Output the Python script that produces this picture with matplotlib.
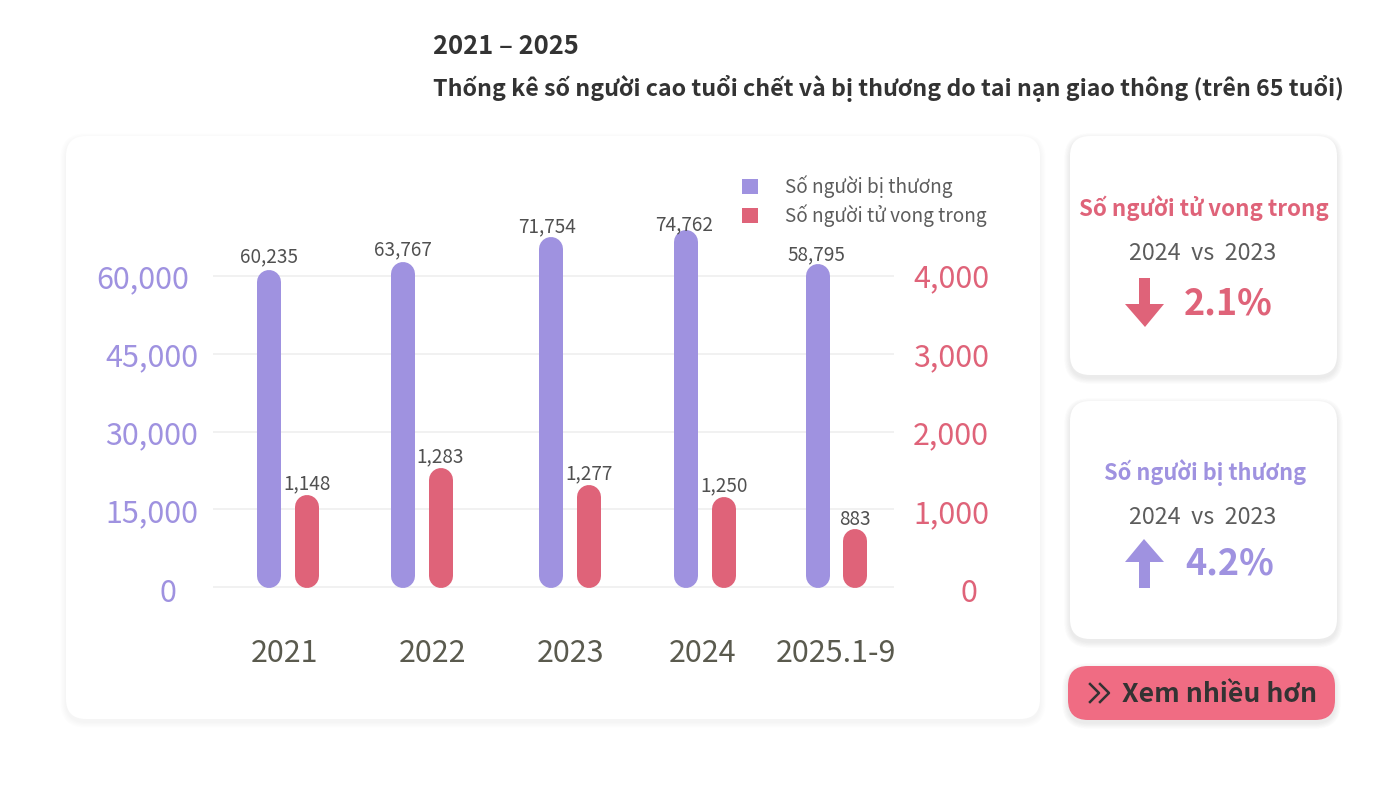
import matplotlib
matplotlib.use('Agg')
import matplotlib.pyplot as plt
from matplotlib.patches import FancyBboxPatch, Patch, Polygon
from matplotlib.transforms import ScaledTranslation

plt.rcParams['font.family'] = ['Noto Sans CJK KR', 'Noto Sans', 'DejaVu Sans']

# data
years = ['2021', '2022', '2023', '2024', '2025.1-9']
injured_labels = ['60,235', '63,767', '71,754', '74,762', '58,795']
deaths_labels = ['1,148', '1,283', '1,277', '1,250', '883']
# the drawn bar heights do not follow the printed numbers, these are read off the axes
injured_bars = [61100, 62700, 67500, 68900, 62300]
deaths_bars = [1183, 1530, 1312, 1157, 746]
left_ticks = [0, 15000, 30000, 45000, 60000]
right_ticks = [0, 1000, 2000, 3000, 4000]

PURPLE = '#9F92E0'
RED = '#DF6379'
PINK = '#F06C83'
DARK = '#333333'
GREY = '#5C5C5C'

W, H = 1400, 790
fig = plt.figure(figsize=(W / 100, H / 100), dpi=100, facecolor='white')


def pt(px):
    return px * 0.72


# background layer in pixel coordinates
bg = fig.add_axes([0, 0, 1, 1])
bg.set_xlim(0, W)
bg.set_ylim(H, 0)
bg.axis('off')


def card(x0, y0, x1, y1, color='white', r=20, shadow=0.006):
    for i in range(10, 0, -1):
        bg.add_patch(FancyBboxPatch((x0 - i * 0.6, y0 - i * 0.6 + 3), x1 - x0 + i * 1.2, y1 - y0 + i * 1.2,
                                    boxstyle='round,pad=0,rounding_size=%d' % (r + i * 0.6),
                                    fc='black', ec='none', alpha=shadow))
    bg.add_patch(FancyBboxPatch((x0, y0), x1 - x0, y1 - y0, boxstyle='round,pad=0,rounding_size=%d' % r,
                                fc=color, ec='none'))


card(66, 136, 1040, 719, shadow=0.005)
card(1070, 136, 1337, 375)
card(1070, 401, 1337, 639)
card(1068, 666, 1335, 720, color=PINK)

# titles
bg.text(433, 47, '2021 – 2025', fontsize=pt(25.5), fontweight='bold', color=DARK, va='center')
bg.text(433, 89, 'Thống kê số người cao tuổi chết và bị thương do tai nạn giao thông (trên 65 tuổi)',
        fontsize=pt(23.2), fontweight='bold', color=DARK, va='center')

# side cards
bg.text(1204, 208, 'Số người tử vong trong', fontsize=pt(22.3), fontweight='bold', color=RED, ha='center', va='center')
bg.text(1203, 253, '2024  vs  2023', fontsize=pt(23.3), color=GREY, ha='center', va='center')
bg.text(1228, 304, '2.1%', fontsize=pt(36), fontweight='bold', color=RED, ha='center', va='center')
bg.add_patch(Polygon([(1139, 278), (1150, 278), (1150, 304), (1164, 304), (1145, 327), (1125, 304), (1139, 304)],
                     fc=RED, ec='none'))

bg.text(1205, 473, 'Số người bị thương', fontsize=pt(21.8), fontweight='bold', color=PURPLE, ha='center', va='center')
bg.text(1203, 518, '2024  vs  2023', fontsize=pt(23.3), color=GREY, ha='center', va='center')
bg.text(1230, 564, '4.2%', fontsize=pt(36), fontweight='bold', color=PURPLE, ha='center', va='center')
bg.add_patch(Polygon([(1139, 588), (1150, 588), (1150, 562), (1164, 562), (1144, 539), (1125, 562), (1139, 562)],
                     fc=PURPLE, ec='none'))

# button
for dx in (0, 10):
    bg.plot([1090 + dx, 1099 + dx, 1090 + dx], [684, 693, 702], color=DARK, lw=1.8)
bg.text(1122, 694, 'Xem nhiều hơn', fontsize=pt(26.6), fontweight='bold', color=DARK, va='center')

# chart axes, 0 sits at y=587 and the 60,000 line at y=276
AX_L, AX_R, AX_T, AX_B = 213, 894, 200, 600
PX_LEFT = 60000 / 311
PX_RIGHT = 4000 / 311

ax = fig.add_axes([AX_L / W, 1 - AX_B / H, (AX_R - AX_L) / W, (AX_B - AX_T) / H])
ax.patch.set_alpha(0)
ax.set_xlim(AX_L, AX_R)
ax.set_ylim(-(AX_B - 587) * PX_LEFT, (587 - AX_T) * PX_LEFT)
ax2 = ax.twinx()
ax2.set_ylim(-(AX_B - 587) * PX_RIGHT, (587 - AX_T) * PX_RIGHT)

group_x = [288, 422, 570, 705, 836.5]
label_x = [284, 433, 570, 703, 836]
BAR_W = 24
injured_dx = [0, 0, -4, -2, -1]
injured_dy = [15, 13, 11, 6, 10]
deaths_dy = [12, 12, 12, 12, 10]


def draw_bars(axis, xs, values, labels, color, scale, dxs, dys):
    r = BAR_W / 2 * scale
    for x, v, lab, dx, dy in zip(xs, values, labels, dxs, dys):
        # round caps reach half a line width past both ends
        axis.plot([x, x], [r - scale, v - r], color=color, lw=pt(BAR_W), solid_capstyle='round',
                  clip_on=False, zorder=3)
        axis.annotate(lab, (x, v), xytext=(pt(dx), pt(dy - 1)), textcoords='offset points',
                      ha='center', va='center', fontsize=pt(19), color='#505050', zorder=4)


draw_bars(ax, [g - 19 for g in group_x], injured_bars, injured_labels, PURPLE, PX_LEFT, injured_dx, injured_dy)
draw_bars(ax2, [g + 18.6 for g in group_x], deaths_bars, deaths_labels, RED, PX_RIGHT, [0] * 5, deaths_dy)

for spine in list(ax.spines.values()) + list(ax2.spines.values()):
    spine.set_visible(False)

ax.set_xlim(AX_L, AX_R)
ax.set_yticks(left_ticks)
ax.set_yticklabels(['{:,}'.format(t) for t in left_ticks], fontsize=pt(30.5), color=PURPLE)
ax2.set_yticks(right_ticks)
ax2.set_yticklabels(['{:,}'.format(t) for t in right_ticks], fontsize=pt(30.5), color=RED)
ax.tick_params(axis='y', length=0, pad=pt(15))
ax2.tick_params(axis='y', length=0, pad=pt(19))
ax.yaxis.grid(True, color='#EEEEEE', lw=1.1)
ax.set_axisbelow(True)

ax.set_xticks(label_x)
ax.set_xticklabels(years, fontsize=pt(30.5), color='#5A5A4E')
ax.tick_params(axis='x', length=0, pad=pt(38))

# the labels in the picture are not all flush with the axis
for lab, dx, dy in zip(ax.get_yticklabels(), [-22, 0, 0, 0, -9], [-3, -1, -1, -1, 0]):
    lab.set_transform(lab.get_transform() + ScaledTranslation(pt(dx) / 72, pt(dy) / 72, fig.dpi_scale_trans))
for lab, dx, dy in zip(ax2.get_yticklabels(), [47, 0, 0, 0, 0], [-3, -2, -1, -1, 1]):
    lab.set_transform(lab.get_transform() + ScaledTranslation(pt(dx) / 72, pt(dy) / 72, fig.dpi_scale_trans))

handles = [Patch(fc=PURPLE, ec='none', label='Số người bị thương'),
           Patch(fc=RED, ec='none', label='Số người tử vong trong')]
ax2.legend(handles=handles, loc='upper left', bbox_to_anchor=((736 - AX_L) / (AX_R - AX_L), (AX_B - 169) / (AX_B - AX_T)),
           frameon=False, fontsize=pt(19), labelcolor=GREY, handlelength=0.85, handleheight=0.85,
           handletextpad=1.45, labelspacing=0.32, borderaxespad=0, borderpad=0.3)

fig.savefig('out.png', dpi=100, facecolor='white')
